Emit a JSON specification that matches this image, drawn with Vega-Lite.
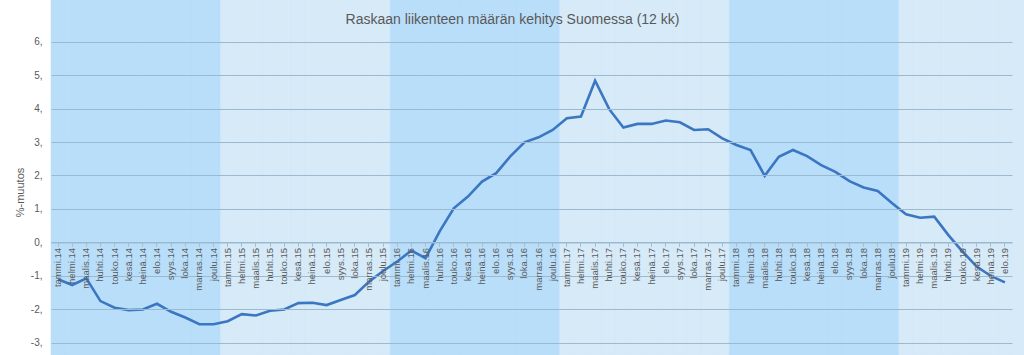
{
  "$schema": "https://vega.github.io/schema/vega-lite/v6.json",
  "width": 973,
  "height": 355,
  "autosize": {"type": "none"},
  "padding": {"left": 51, "top": 0, "right": 0, "bottom": 0},
  "background": "white",
  "config": {"view": {"fill": "#d6eaf8", "stroke": null}},
  "title": {
    "text": "Raskaan liikenteen määrän kehitys Suomessa (12 kk)",
    "orient": "top",
    "anchor": "middle",
    "frame": "group",
    "offset": -34,
    "dx": -25,
    "baseline": "middle",
    "font": "Liberation Sans",
    "fontSize": 14,
    "fontWeight": "normal",
    "color": "#595959"
  },
  "data": {
    "values": [
      {"m": "tammi.14", "yr": "14", "v": -1.10},
      {"m": "helmi.14", "yr": "14", "v": -1.27},
      {"m": "maalis.14", "yr": "14", "v": -1.07},
      {"m": "huhti.14", "yr": "14", "v": -1.75},
      {"m": "touko.14", "yr": "14", "v": -1.95},
      {"m": "kesä.14", "yr": "14", "v": -2.02},
      {"m": "heinä.14", "yr": "14", "v": -2.00},
      {"m": "elo.14", "yr": "14", "v": -1.83},
      {"m": "syys.14", "yr": "14", "v": -2.07},
      {"m": "loka.14", "yr": "14", "v": -2.24},
      {"m": "marras.14", "yr": "14", "v": -2.44},
      {"m": "joulu.14", "yr": "14", "v": -2.44},
      {"m": "tammi.15", "yr": "15", "v": -2.35},
      {"m": "helmi.15", "yr": "15", "v": -2.14},
      {"m": "maalis.15", "yr": "15", "v": -2.18},
      {"m": "huhti.15", "yr": "15", "v": -2.04},
      {"m": "touko.15", "yr": "15", "v": -2.00},
      {"m": "kesä.15", "yr": "15", "v": -1.81},
      {"m": "heinä.15", "yr": "15", "v": -1.80},
      {"m": "elo.15", "yr": "15", "v": -1.87},
      {"m": "syys.15", "yr": "15", "v": -1.72},
      {"m": "loka.15", "yr": "15", "v": -1.57},
      {"m": "marras.15", "yr": "15", "v": -1.17},
      {"m": "joulu.15", "yr": "15", "v": -0.85},
      {"m": "tammi.16", "yr": "16", "v": -0.57},
      {"m": "helmi.16", "yr": "16", "v": -0.24},
      {"m": "maalis.16", "yr": "16", "v": -0.47},
      {"m": "huhti.16", "yr": "16", "v": 0.33},
      {"m": "touko.16", "yr": "16", "v": 1.02},
      {"m": "kesä.16", "yr": "16", "v": 1.37},
      {"m": "heinä.16", "yr": "16", "v": 1.82},
      {"m": "elo.16", "yr": "16", "v": 2.07},
      {"m": "syys.16", "yr": "16", "v": 2.57},
      {"m": "loka.16", "yr": "16", "v": 2.99},
      {"m": "marras.16", "yr": "16", "v": 3.14},
      {"m": "joulu.16", "yr": "16", "v": 3.36},
      {"m": "tammi.17", "yr": "17", "v": 3.71},
      {"m": "helmi.17", "yr": "17", "v": 3.76},
      {"m": "maalis.17", "yr": "17", "v": 4.83},
      {"m": "huhti.17", "yr": "17", "v": 3.98},
      {"m": "touko.17", "yr": "17", "v": 3.43},
      {"m": "kesä.17", "yr": "17", "v": 3.54},
      {"m": "heinä.17", "yr": "17", "v": 3.54},
      {"m": "elo.17", "yr": "17", "v": 3.64},
      {"m": "syys.17", "yr": "17", "v": 3.59},
      {"m": "loka.17", "yr": "17", "v": 3.36},
      {"m": "marras.17", "yr": "17", "v": 3.38},
      {"m": "joulu.17", "yr": "17", "v": 3.11},
      {"m": "tammi.18", "yr": "18", "v": 2.91},
      {"m": "helmi.18", "yr": "18", "v": 2.76},
      {"m": "maalis.18", "yr": "18", "v": 1.99},
      {"m": "huhti.18", "yr": "18", "v": 2.56},
      {"m": "touko.18", "yr": "18", "v": 2.76},
      {"m": "kesä.18", "yr": "18", "v": 2.58},
      {"m": "heinä.18", "yr": "18", "v": 2.31},
      {"m": "elo.18", "yr": "18", "v": 2.11},
      {"m": "syys.18", "yr": "18", "v": 1.83},
      {"m": "loka.18", "yr": "18", "v": 1.64},
      {"m": "marras.18", "yr": "18", "v": 1.54},
      {"m": "joulu18", "yr": "18", "v": 1.18},
      {"m": "tammi.19", "yr": "19", "v": 0.84},
      {"m": "helmi.19", "yr": "19", "v": 0.74},
      {"m": "maalis.19", "yr": "19", "v": 0.77},
      {"m": "huhti.19", "yr": "19", "v": 0.22},
      {"m": "touko.19", "yr": "19", "v": -0.27},
      {"m": "kesä.19", "yr": "19", "v": -0.72},
      {"m": "heinä.19", "yr": "19", "v": -1.00},
      {"m": "elo.19", "yr": "19", "v": -1.19}
    ]
  },
  "encoding": {
    "x": {
      "field": "m",
      "type": "ordinal",
      "sort": null,
      "scale": {"range": [0, 961], "paddingInner": 0, "paddingOuter": 0},
      "axis": {
        "title": null,
        "orient": "bottom",
        "offset": -112.5,
        "labelAngle": -90,
        "labelFont": "Liberation Sans",
        "labelFontSize": 9.5,
        "labelColor": "#595959",
        "labelPadding": 1,
        "tickSize": 4,
        "tickColor": "#a9bfd0",
        "domainColor": "#9bb9cf",
        "grid": false,
        "zindex": 1
      }
    }
  },
  "layer": [
    {
      "mark": {"type": "rect", "strokeWidth": 0.6},
      "encoding": {
        "fill": {
          "field": "yr",
          "type": "nominal",
          "scale": {"domain": ["14", "15", "16", "17", "18", "19"], "range": ["#b9defa", "#d6eaf8", "#b9defa", "#d6eaf8", "#b9defa", "#d6eaf8"]},
          "legend": null
        },
        "stroke": {
          "field": "yr",
          "type": "nominal",
          "scale": {"domain": ["14", "15", "16", "17", "18", "19"], "range": ["#b9defa", "#d6eaf8", "#b9defa", "#d6eaf8", "#b9defa", "#d6eaf8"]},
          "legend": null
        }
      }
    },
    {
      "mark": {"type": "line", "color": "#3b76c3", "strokeWidth": 2.6},
      "encoding": {
        "y": {
          "field": "v",
          "type": "quantitative",
          "scale": {"domain": [-3.36, 7.24], "nice": false, "zero": false},
          "axis": {
            "zindex": 1,
            "values": [-3, -2, -1, 0, 1, 2, 3, 4, 5, 6],
            "labelExpr": "datum.value + ','",
            "labelFont": "Liberation Sans",
            "labelFontSize": 10,
            "labelColor": "#595959",
            "labelPadding": 9,
            "ticks": false,
            "domain": false,
            "grid": true,
            "gridColor": "#9bb9cf",
            "gridWidth": 1,
            "title": "%-muutos",
            "titleFont": "Liberation Sans",
            "titleFontSize": 11,
            "titleFontWeight": "normal",
            "titleColor": "#595959",
            "titleX": -31,
            "titleY": 192,
            "titleAngle": 270,
            "titleAlign": "center",
            "titleBaseline": "middle"
          }
        }
      }
    }
  ]
}
